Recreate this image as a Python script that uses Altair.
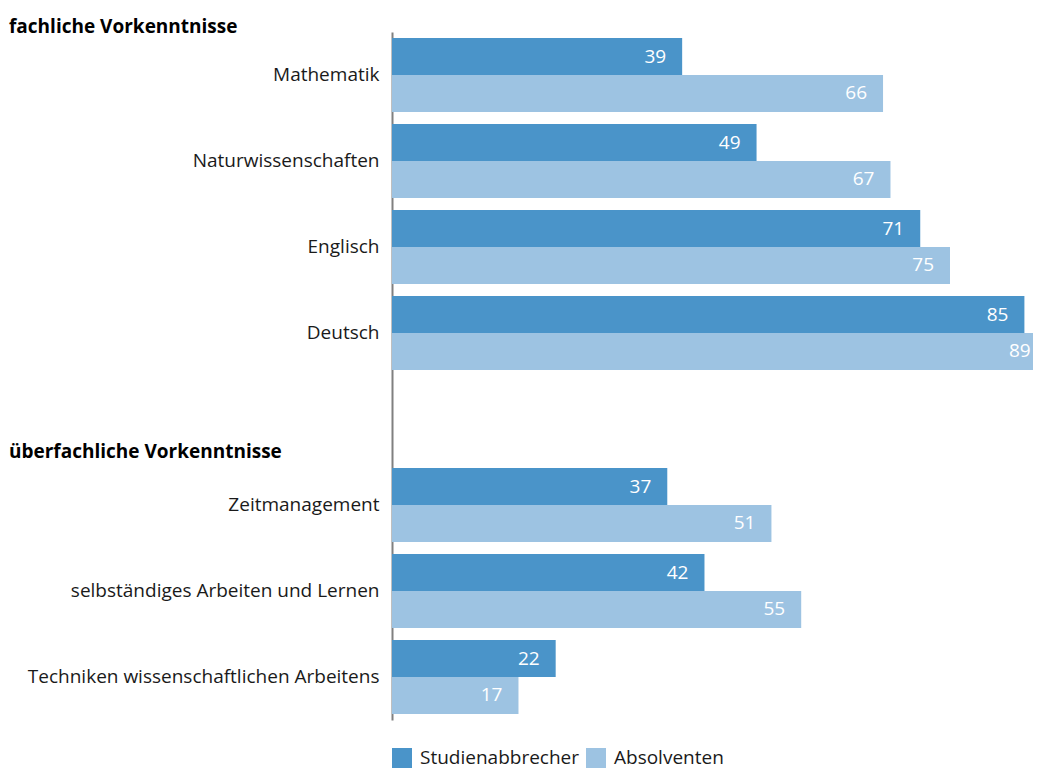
import altair as alt
import pandas as pd

# ---- data ----
kategorien_fach = ["Mathematik", "Naturwissenschaften", "Englisch", "Deutsch"]
abbrecher_fach = [39, 49, 71, 85]
absolventen_fach = [66, 67, 75, 89]

kategorien_ueber = ["Zeitmanagement", "selbständiges Arbeiten und Lernen",
                    "Techniken wissenschaftlichen Arbeitens"]
abbrecher_ueber = [37, 42, 22]
absolventen_ueber = [51, 55, 17]

gruppen = ["Studienabbrecher", "Absolventen"]
farben = ["#4a94c9", "#9dc3e2"]

ueberschrift_1 = "fachliche Vorkenntnisse"
ueberschrift_2 = "überfachliche Vorkenntnisse"

FONT = "Open Sans"
FS = 19

rows = []
for cats, ab, abs_ in [(kategorien_fach, abbrecher_fach, absolventen_fach),
                       (kategorien_ueber, abbrecher_ueber, absolventen_ueber)]:
    for c, a, b in zip(cats, ab, abs_):
        rows.append({"Kategorie": c, "Gruppe": gruppen[0], "Wert": a})
        rows.append({"Kategorie": c, "Gruppe": gruppen[1], "Wert": b})
df = pd.DataFrame(rows)

y_domain = kategorien_fach + [ueberschrift_2] + kategorien_ueber

W = 650
PX_PER_UNIT = 7.44
X_MAX = W / PX_PER_UNIT
LABEL_MAX = 88.0  # keep the last value label inside the visible page
x_scale = alt.Scale(domain=[0, X_MAX], nice=False, zero=True)
y_scale = alt.Scale(domain=y_domain, paddingInner=0.14, paddingOuter=0.07)

y_enc = alt.Y("Kategorie:N", scale=y_scale, title=None,
              axis=alt.Axis(ticks=False, domainColor="#808080", domainWidth=2,
                            labelFontSize=FS, labelColor="#1a1a1a", labelFont=FONT,
                            labelPadding=13, labelLimit=500,
                            labelExpr=f"datum.value == '{ueberschrift_2}' ? '' : datum.value"))

y_off = alt.YOffset("Gruppe:N", sort=gruppen,
                    scale=alt.Scale(paddingInner=0, paddingOuter=0))

bars = alt.Chart(df).mark_bar(clip=True).encode(
    y=y_enc,
    yOffset=y_off,
    x=alt.X("Wert:Q", scale=x_scale, axis=None),
    color=alt.Color("Gruppe:N", sort=gruppen,
                    scale=alt.Scale(domain=gruppen, range=farben),
                    legend=alt.Legend(title=None, orient="bottom", direction="horizontal",
                                      symbolType="square", symbolSize=400,
                                      symbolStrokeWidth=0, labelFontSize=FS,
                                      labelFont=FONT, labelColor="#1a1a1a",
                                      labelOffset=8, columnPadding=6, offset=28))
)

labels = alt.Chart(df).transform_calculate(
    LabelPos=f"min(datum.Wert, {LABEL_MAX})"
).mark_text(align="right", baseline="middle", dx=-16, color="white",
            fontSize=FS, font=FONT).encode(
    y=y_enc,
    yOffset=y_off,
    x=alt.X("LabelPos:Q", scale=x_scale, axis=None),
    text="Wert:Q",
)

heading_df = pd.DataFrame({"Kategorie": [ueberschrift_2]})
heading = alt.Chart(heading_df).mark_text(
    align="left", baseline="alphabetic", fontSize=FS, fontWeight="bold",
    font=FONT, color="black", dy=39
).encode(y=alt.Y("Kategorie:N", scale=y_scale, title=None),
         x=alt.value(-383), text="Kategorie:N")

chart = alt.layer(bars, labels, heading).properties(
    width=W, height=688,
    padding={"left": 1, "top": 10, "right": -9, "bottom": 0},
    title=alt.TitleParams(ueberschrift_1, anchor="start", frame="group", dx=-383,
                          fontSize=FS, fontWeight="bold", font=FONT, color="black",
                          baseline="alphabetic", offset=-20),
).configure_view(stroke=None)

chart.save("out.html", embed_options={"renderer": "svg", "actions": False})
